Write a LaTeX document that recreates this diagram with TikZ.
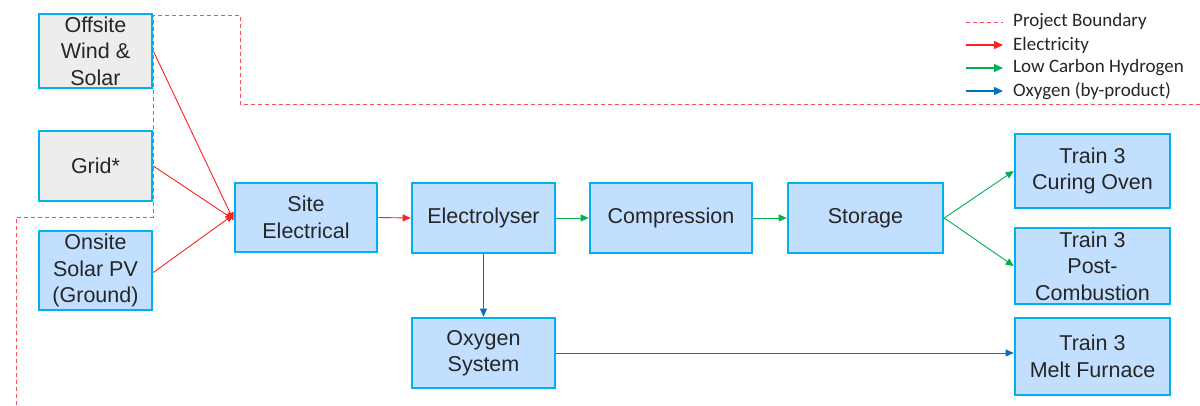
\documentclass[tikz,border=0pt]{standalone}
\usepackage{fontspec}
\setmainfont{Liberation Sans}
\newfontfamily\legendfont{Carlito}
\usetikzlibrary{arrows.meta}
\definecolor{boxborder}{HTML}{00B0F0}
\definecolor{boxblue}{HTML}{C2DFFF}
\definecolor{boxgrey}{HTML}{EDEDED}
\definecolor{txt}{HTML}{262626}
\definecolor{elec}{HTML}{FF2020}
\definecolor{hydro}{HTML}{00B050}
\definecolor{oxy}{HTML}{0070C0}
\definecolor{bound}{HTML}{FF4B5A}
\tikzset{
  blk/.style={draw=boxborder, line width=2.6pt, fill=boxblue, text=txt, align=center,
    inner sep=0pt, font=\fontsize{21.5}{26.5}\selectfont},
  gblk/.style={blk, fill=boxgrey},
  tip/.style={-{Triangle[length=8pt,width=7pt]}},
  earrow/.style={draw=elec, line width=0.9pt, tip},
  harrow/.style={draw=hydro, line width=0.9pt, tip},
  oarrow/.style={draw=oxy, line width=0.9pt, tip},
  legtip/.style={line width=1.3pt, -{Triangle[length=9pt,width=8pt]}},
  boundary/.style={draw=bound, line width=1pt, dash pattern=on 4pt off 3pt},
  legtext/.style={anchor=west, text=txt, inner sep=0pt, font=\legendfont\fontsize{19}{22}\selectfont}
}
\begin{document}
\begin{tikzpicture}[x=1pt,y=-1pt]
\useasboundingbox (0,0) rectangle (1200,405);
% boxes
\node[gblk, minimum width=113pt, minimum height=74pt] (off) at (95.5,51) {Offsite\\Wind \&\\Solar};
\node[gblk, minimum width=113pt, minimum height=70pt] (grid) at (95.5,166) {Grid*};
\node[blk, minimum width=113pt, minimum height=79pt] (onsite) at (95.5,270.5) {Onsite\\Solar PV\\(Ground)};
\node[blk, minimum width=142pt, minimum height=69pt] (site) at (306,217.5) {Site\\Electrical};
\node[blk, minimum width=143pt, minimum height=70pt] (ely) at (483.5,218) {Electrolyser};
\node[blk, minimum width=162pt, minimum height=70pt] (comp) at (671,218) {Compression};
\node[blk, minimum width=155pt, minimum height=70pt] (stor) at (865.5,218) {Storage};
\node[blk, minimum width=155pt, minimum height=74pt] (cure) at (1092.5,171) {Train 3\\Curing Oven};
\node[blk, minimum width=155pt, minimum height=76pt] (post) at (1092.5,266) {Train 3\\Post-\\Combustion};
\node[blk, minimum width=143pt, minimum height=70pt] (oxs) at (483.5,353) {Oxygen\\System};
\node[blk, minimum width=155pt, minimum height=77pt] (melt) at (1092.5,356.5) {Train 3\\Melt Furnace};
% connectors
\draw[earrow] (off.east) -- ([yshift=-3pt]site.west);
\draw[earrow] (grid.east) -- ([yshift=-2pt]site.west);
\draw[earrow] ([yshift=-2pt]onsite.east) -- ([yshift=3pt]site.west);
\draw[earrow] (site.east) -- (ely.west);
\draw[harrow] (ely.east) -- (comp.west);
\draw[harrow] (comp.east) -- (stor.west);
\draw[harrow] (stor.east) -- (cure.west);
\draw[harrow] (stor.east) -- (post.west);
\draw[oarrow] (ely.south) -- (oxs.north);
\draw[oarrow] (oxs.east) -- (oxs.east -| melt.west);
% project boundary
\coordinate (b1) at (16,405);
\coordinate (b2) at (16,217);
\coordinate (b3) at (153,217);
\coordinate (b4) at (153,15);
\coordinate (b5) at (240,15);
\coordinate (b6) at (240,104);
\coordinate (b7) at (1200,104);
\draw[boundary] (b1) -- (b2) -- (b3) -- (b4) -- (b5) -- (b6) -- (b7);
% legend
\coordinate (l1a) at (966,22); \coordinate (l1b) at (1003,22);
\coordinate (l2a) at (966,45); \coordinate (l2b) at (1003,45);
\coordinate (l3a) at (966,68); \coordinate (l3b) at (1003,68);
\coordinate (l4a) at (966,91); \coordinate (l4b) at (1003,91);
\draw[boundary] (l1a) -- (l1b);
\draw[draw=elec, legtip] (l2a) -- (l2b);
\draw[draw=hydro, legtip] (l3a) -- (l3b);
\draw[draw=oxy, legtip] (l4a) -- (l4b);
\node[legtext] (t1) at (1013,22) {Project Boundary};
\node[legtext] (t2) at (1013,45) {Electricity};
\node[legtext] (t3) at (1013,68) {Low Carbon Hydrogen};
\node[legtext] (t4) at (1013,91) {Oxygen (by-product)};
\end{tikzpicture}
\end{document}
